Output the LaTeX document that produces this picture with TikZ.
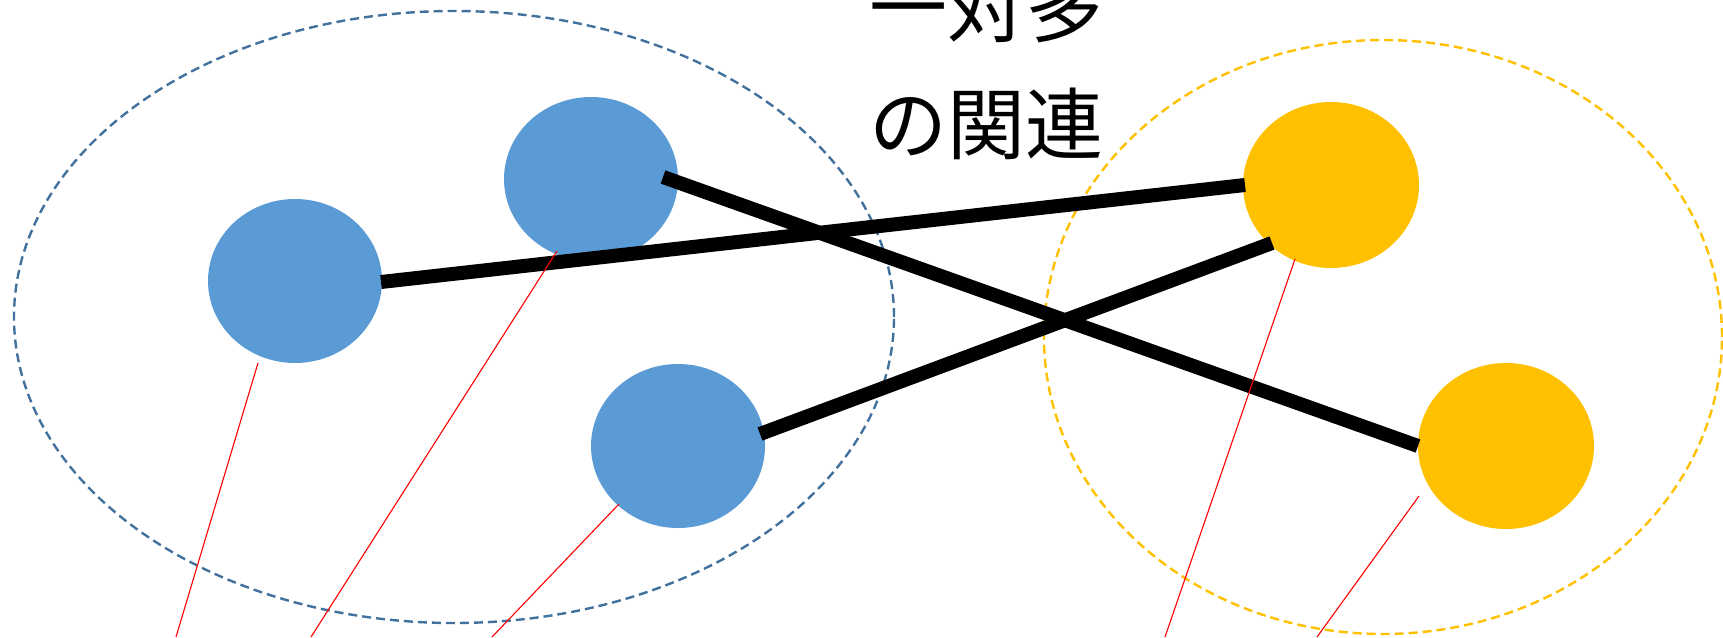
\documentclass[tikz,border=0pt]{standalone}
\usepackage{fontspec}
\newfontfamily\jpfont{Noto Sans CJK JP}
\usetikzlibrary{shapes.geometric}
\definecolor{bluefill}{HTML}{5B9BD5}
\definecolor{blueline}{HTML}{41719C}
\definecolor{goldfill}{HTML}{FFC000}
\tikzset{
  group/.style={ellipse, draw, line width=1.2pt, dash pattern=on 4.5pt off 2.5pt, inner sep=0pt},
  bluegroup/.style={group, draw=blueline, minimum width=440pt, minimum height=306pt},
  goldgroup/.style={group, draw=goldfill, minimum width=339pt, minimum height=297pt},
  bluedot/.style={ellipse, fill=bluefill, inner sep=0pt, minimum width=87pt, minimum height=82pt},
  golddot/.style={ellipse, fill=goldfill, inner sep=0pt, minimum width=88pt, minimum height=83pt},
  link/.style={line width=7pt, black},
  leader/.style={red, line width=0.55pt},
  title/.style={font=\jpfont\fontsize{39}{45}\selectfont, inner sep=0pt}
}
\begin{document}
\begin{tikzpicture}[x=0.5pt, y=-0.5pt]
\useasboundingbox (0,0) rectangle (1723,637);
% groups
\node[bluegroup] (G1) at (454,317) {};
\node[goldgroup] (G2) at (1383,337) {};
% items
\node[bluedot] (B1) at (295,281) {};
\node[bluedot] (B2) at (591,179) {};
\node[bluedot] (B3) at (678,446) {};
\node[golddot] (Y1) at (1331,185) {};
\node[golddot] (Y2) at (1506,446) {};
% title
\node[title] (t1) at (986,7) {一対多};
\node[title] (t2) at (986,124) {の関連};
% link end points
\coordinate (b1e) at (381,282);
\coordinate (b2e) at (663,177);
\coordinate (b3e) at (760,434);
\coordinate (y1w) at (1245,185);
\coordinate (y1s) at (1272,243);
\coordinate (y2w) at (1418,446);
\draw[link] (b1e) -- (y1w);
\draw[link] (b2e) -- (y2w);
\draw[link] (b3e) -- (y1s);
% leader lines
\coordinate (l1a) at (258,363);  \coordinate (l1b) at (176,637);
\coordinate (l2a) at (557,251);  \coordinate (l2b) at (311,637);
\coordinate (l3a) at (619,504);  \coordinate (l3b) at (492,637);
\coordinate (l4a) at (1295,259); \coordinate (l4b) at (1165,637);
\coordinate (l5a) at (1419,496); \coordinate (l5b) at (1317,637);
\draw[leader] (l1a) -- (l1b);
\draw[leader] (l2a) -- (l2b);
\draw[leader] (l3a) -- (l3b);
\draw[leader] (l4a) -- (l4b);
\draw[leader] (l5a) -- (l5b);
\end{tikzpicture}
\end{document}
